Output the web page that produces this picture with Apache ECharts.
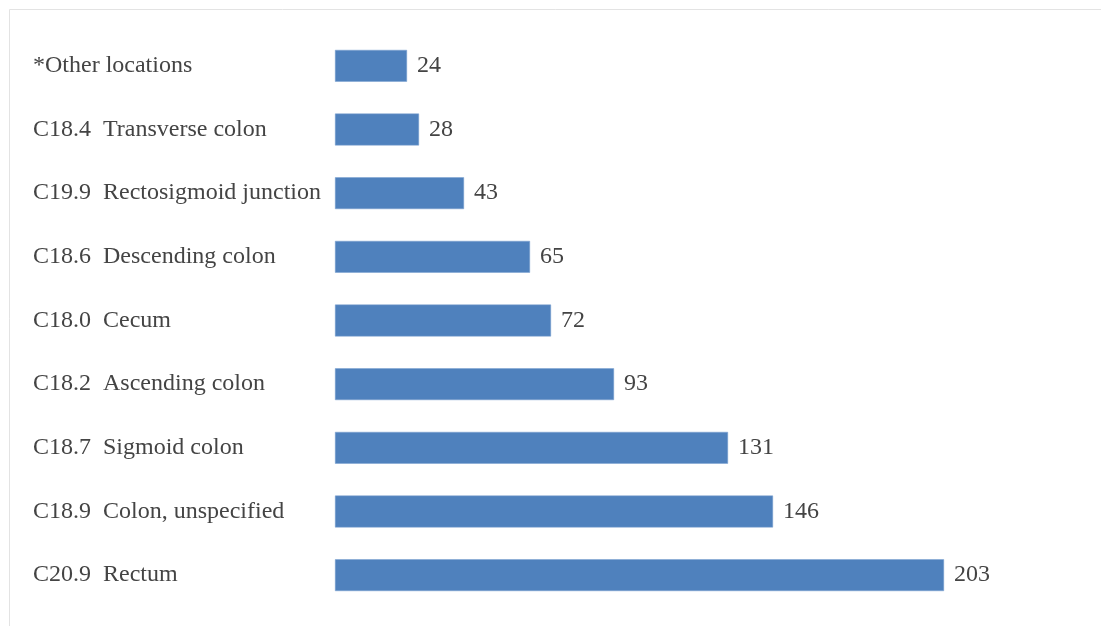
<!DOCTYPE html>
<html>
<head>
<meta charset="utf-8">
<script src="https://cdn.jsdelivr.net/npm/echarts@6/dist/echarts.min.js"></script>
<style>html,body{margin:0;padding:0;background:#fff}#c{width:1101px;height:626px}</style>
</head>
<body>
<div id="c"></div>
<script>
const categories = ['*Other locations', 'C18.4  Transverse colon', 'C19.9  Rectosigmoid junction', 'C18.6  Descending colon', 'C18.0  Cecum', 'C18.2  Ascending colon', 'C18.7  Sigmoid colon', 'C18.9  Colon, unspecified', 'C20.9  Rectum'];
const values = [24, 28, 43, 65, 72, 93, 131, 146, 203];

const font = 'Liberation Serif';
const chart = echarts.init(document.getElementById('c'));
chart.setOption({
  animation: false,
  backgroundColor: '#fff',
  graphic: [{
    type: 'rect', left: 7, top: 7, shape: {width: 1110, height: 640},
    style: {fill: 'none', stroke: '#e3e3e3', lineWidth: 1}, silent: true
  }],
  grid: {left: 335, top: 34, width: 750, bottom: 19, containLabel: false},
  xAxis: {type: 'value', min: 0, max: 250, show: false},
  yAxis: {
    type: 'category', data: categories, inverse: true,
    axisLine: {show: false}, axisTick: {show: false}, splitLine: {show: false},
    axisLabel: {align: 'left', margin: 302, color: '#444', fontFamily: font, fontSize: 24, padding: [4, 0, 0, 0]}
  },
  series: [{
    type: 'bar', data: values, barCategoryGap: '50%',
    itemStyle: {color: '#4f81bd', borderColor: '#7aa0d0', borderWidth: 0.5},
    label: {show: true, position: 'right', distance: 10, color: '#444', fontFamily: font, fontSize: 24, padding: [4, 0, 0, 0]}
  }]
});
</script>
</body>
</html>
